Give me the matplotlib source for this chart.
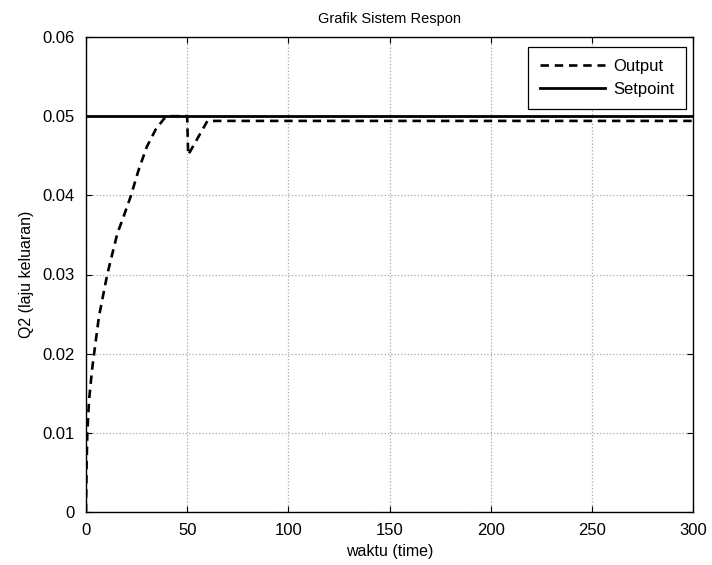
import matplotlib
matplotlib.use("Agg")
import matplotlib.pyplot as plt

plt.rcParams['font.family'] = ['Liberation Sans', 'DejaVu Sans']

time_out = [0, 0.3, 0.65, 1.5, 3, 4, 6.4, 10.5, 15.5, 18, 22, 26, 30, 34.4, 38.6, 42, 50, 50.5, 60, 300]
q2_out = [0, 0.006, 0.010, 0.0141, 0.018, 0.020, 0.0247, 0.030, 0.0352, 0.0369, 0.0398, 0.0432,
          0.0461, 0.0483, 0.0497, 0.0500, 0.0500, 0.0451, 0.0494, 0.0494]
time_sp = [0, 300]
q2_sp = [0.05, 0.05]

x_ticks = [0, 50, 100, 150, 200, 250, 300]
y_ticks = [0, 0.01, 0.02, 0.03, 0.04, 0.05, 0.06]
y_ticklabels = ['0', '0.01', '0.02', '0.03', '0.04', '0.05', '0.06']

fig = plt.figure(figsize=(7.12, 5.65), dpi=100)
ax = fig.add_axes([86/712, 1 - 512/565, 607/712, 475/565])

ax.plot(time_out, q2_out, color='black', linestyle=(0, (3.2, 2.2)), linewidth=1.9, label='Output')
ax.plot(time_sp, q2_sp, color='black', linestyle='-', linewidth=2.0, label='Setpoint')

ax.set_xlim(0, 300)
ax.set_ylim(0, 0.06)
ax.set_xticks(x_ticks)
ax.set_xticklabels([str(v) for v in x_ticks])
ax.set_yticks(y_ticks)
ax.set_yticklabels(y_ticklabels)
ax.tick_params(direction='in', length=4, width=0.8, labelsize=12, top=True, right=True)
ax.tick_params(axis='x', pad=8)
ax.tick_params(axis='y', pad=8)
ax.grid(True, color='#a8a8a8', linestyle=':', linewidth=0.9)
for s in ax.spines.values():
    s.set_linewidth(1.0)

ax.set_title('Grafik Sistem Respon', fontsize=10.5, pad=10)
ax.set_xlabel('waktu (time)', fontsize=11.5, labelpad=4)
ax.set_ylabel('Q2 (laju keluaran)', fontsize=11.5, labelpad=6)

leg = ax.legend(loc='upper right', fontsize=12, frameon=True, fancybox=False, edgecolor='black',
                framealpha=1, handlelength=3.9, handletextpad=0.5, borderpad=0.7, labelspacing=0.5,
                borderaxespad=0, bbox_to_anchor=(0.988, 0.979))
leg.get_frame().set_linewidth(0.9)

fig.savefig('out.png', dpi=100)
